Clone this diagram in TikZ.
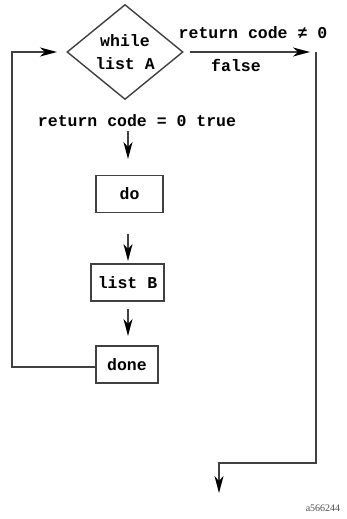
\documentclass[tikz,border=0pt]{standalone}
\usepackage{fontspec}
\setmonofont{Liberation Mono}
\newfontfamily\labelfont{Liberation Serif}
\usetikzlibrary{shapes.geometric,arrows.meta}
\begin{document}
\begin{tikzpicture}[x=1pt,y=-1pt,
  line/.style={draw=black!75,line width=1.4pt},
  flow/.style={line,-{Stealth[length=17pt,width=9pt,inset=5pt,color=black]}},
  code/.style={font=\ttfamily\bfseries\fontsize{16.5}{23}\selectfont,text=black},
  stepbox/.style={line,code,rectangle,inner sep=0pt,minimum height=37pt}
]
\useasboundingbox (0,0) rectangle (347,519);

% decision
\node[line,code,diamond,aspect=1.22,inner sep=0pt,minimum width=116pt,minimum height=95pt,align=center]
  (test) at (125,52) {while\\list A};

% loop body
\node[stepbox,minimum width=67pt] (do) at (129.5,194) {do};
\node[stepbox,minimum width=73pt] (body) at (127.5,282.5) {list B};
\node[stepbox,minimum width=62pt] (done) at (127,364.5) {done};

% labels
\node[code] (ne) at (253,33) {return code ≠ 0};
\node[code] (false) at (236,65) {false};
\node[code] (true) at (137,121) {return code = 0 true};
\node[font=\labelfont\fontsize{10}{12}\selectfont,text=black!70] (id) at (323,508) {a566244};

% anchor points
\coordinate (t1) at (128,131);
\coordinate (h1) at (128,159);
\coordinate (t2) at (128,234);
\coordinate (h2) at (128,261);
\coordinate (t3) at (128,309);
\coordinate (h3) at (128,336);
\coordinate (back) at (12,367);
\coordinate (backtop) at (12,52);
\coordinate (entry) at (57,52);
\coordinate (exit0) at (190,52);
\coordinate (exit1) at (310,52);
\coordinate (rtop) at (316,52);
\coordinate (rbot) at (316,463);
\coordinate (lbend) at (219,463);
\coordinate (out) at (219,493);

% connectors
\draw[flow] (t1) -- (h1);
\draw[flow] (t2) -- (h2);
\draw[flow] (t3) -- (h3);
\draw[flow] (done.west |- back) -- (back) -- (backtop) -- (entry);
\draw[flow] (exit0) -- (exit1);
\draw[flow] (rtop) -- (rbot) -- (lbend) -- (out);
\end{tikzpicture}
\end{document}
